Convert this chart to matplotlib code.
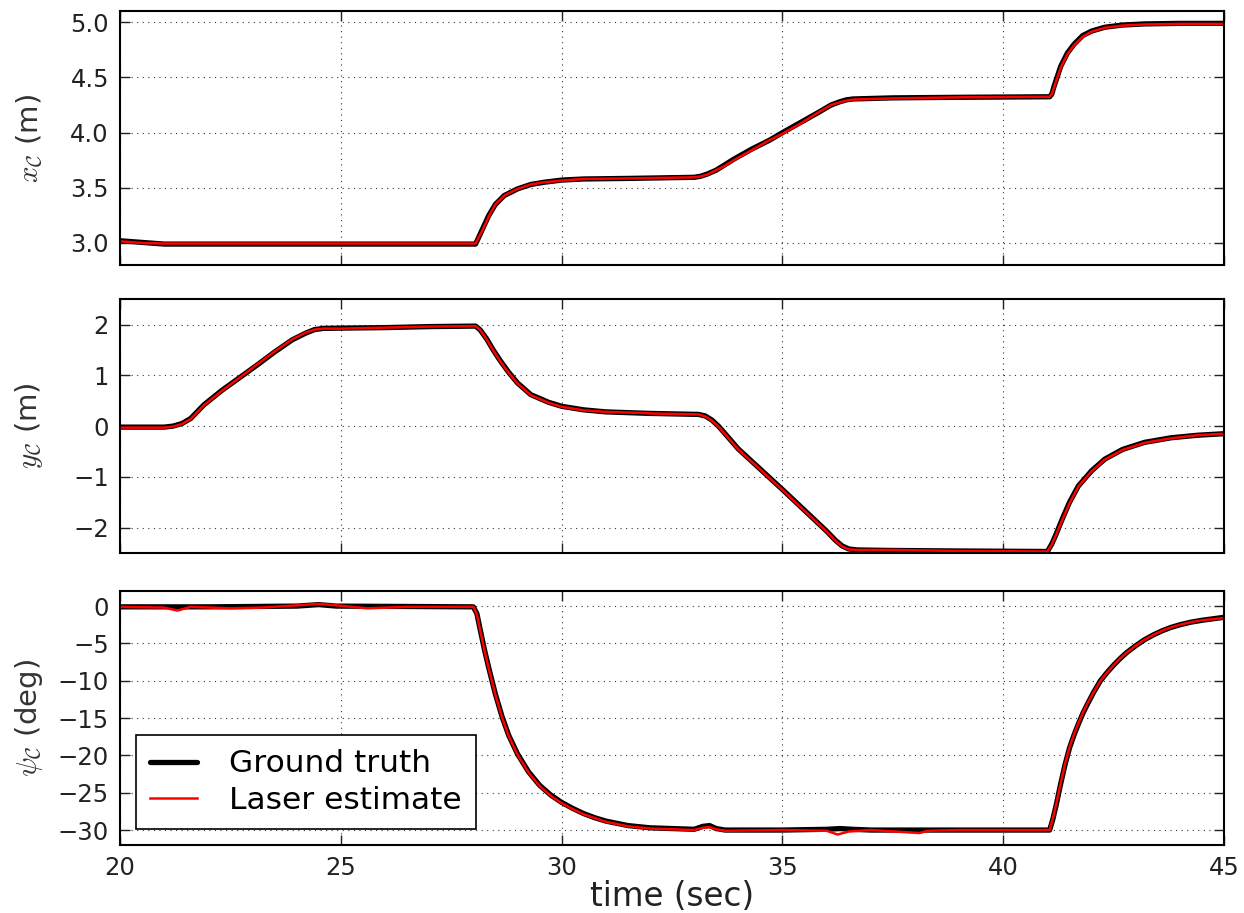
import matplotlib
matplotlib.use("Agg")
import matplotlib.pyplot as plt
import numpy as np

plt.rcParams["mathtext.fontset"] = "cm"
plt.rcParams["font.family"] = "DejaVu Sans"

# ---- x_C (m) ----
t_x_gt = [20.0, 20.5, 21.0, 24.0, 28.05, 28.12, 28.2, 28.35, 28.5, 28.7, 29.0, 29.3, 29.6,
          30.0, 30.5, 31.5, 33.0, 33.15, 33.3, 33.5, 33.7, 33.9, 34.3, 34.7, 35.0, 35.4,
          35.8, 36.1, 36.3, 36.45, 36.6, 37.5, 39.0, 41.05, 41.1, 41.15, 41.3, 41.45, 41.6,
          41.8, 42.0, 42.3, 42.7, 43.2, 44.0, 45.0]
x_gt = [3.02, 3.005, 2.99, 2.99, 2.99, 3.05, 3.12, 3.25, 3.35, 3.43, 3.49, 3.53, 3.55,
        3.57, 3.58, 3.585, 3.595, 3.605, 3.625, 3.66, 3.71, 3.76, 3.85, 3.93, 4.0, 4.09,
        4.18, 4.25, 4.28, 4.297, 4.305, 4.315, 4.32, 4.325, 4.35, 4.42, 4.6, 4.72, 4.8,
        4.88, 4.92, 4.955, 4.975, 4.985, 4.99, 4.99]
t_x_las = [20.0, 20.5, 21.0, 23.0, 25.0, 28.05, 28.12, 28.2, 28.35, 28.5, 28.7, 29.0, 29.3,
           29.6, 30.0, 30.5, 31.5, 32.3, 33.0, 33.15, 33.3, 33.5, 33.7, 33.9, 34.3, 34.7,
           35.0, 35.4, 35.8, 36.1, 36.3, 36.45, 36.6, 37.5, 39.0, 41.05, 41.1, 41.15, 41.3,
           41.45, 41.6, 41.8, 42.0, 42.3, 42.7, 43.2, 44.0, 45.0]
x_las = [3.015, 3.0, 2.995, 2.995, 2.995, 2.995, 3.05, 3.11, 3.24, 3.35, 3.43, 3.49, 3.53,
         3.55, 3.565, 3.58, 3.585, 3.59, 3.595, 3.603, 3.62, 3.66, 3.7, 3.75, 3.84, 3.93,
         3.99, 4.08, 4.18, 4.25, 4.275, 4.29, 4.3, 4.31, 4.32, 4.325, 4.35, 4.41, 4.59,
         4.71, 4.79, 4.87, 4.915, 4.95, 4.97, 4.98, 4.985, 4.985]

# ---- y_C (m) ----
t_y_gt = [20.0, 21.0, 21.2, 21.4, 21.6, 21.9, 22.3, 22.7, 23.1, 23.5, 23.9, 24.2,
          24.4, 24.6, 25.0, 26.0, 27.0, 28.05, 28.15, 28.3, 28.45, 28.6, 28.8, 29.0, 29.3,
          29.7, 30.0, 30.5, 31.0, 32.0, 33.1, 33.25, 33.4, 33.55, 33.7, 34.0, 34.5, 35.0,
          35.5, 36.0, 36.2, 36.35, 36.5, 36.7, 37.5, 39.0, 41.0, 41.1, 41.2, 41.35, 41.5,
          41.7, 42.0, 42.3, 42.7, 43.2, 43.8, 44.4, 45.0]
y_gt = [-0.02, -0.02, 0.0, 0.05, 0.15, 0.42, 0.7, 0.95, 1.2, 1.46, 1.7, 1.83,
        1.9, 1.925, 1.93, 1.94, 1.96, 1.97, 1.9, 1.72, 1.5, 1.3, 1.06, 0.85, 0.62,
        0.47, 0.39, 0.32, 0.28, 0.25, 0.23, 0.2, 0.12, 0.0, -0.15, -0.45, -0.85, -1.25,
        -1.66, -2.07, -2.25, -2.36, -2.42, -2.44, -2.45, -2.46, -2.47, -2.32, -2.12, -1.8, -1.5,
        -1.18, -0.88, -0.65, -0.46, -0.32, -0.23, -0.18, -0.15]
t_y_las = [20.0, 21.0, 21.2, 21.4, 21.6, 21.9, 22.3, 22.7, 23.1, 23.5, 23.9, 24.2,
           24.4, 24.6, 25.0, 26.0, 27.0, 28.05, 28.15, 28.3, 28.45, 28.6, 28.8, 29.0, 29.3,
           29.7, 30.0, 30.5, 31.0, 31.8, 32.0, 33.1, 33.25, 33.4, 33.55, 33.7, 34.0, 34.5,
           35.0, 35.5, 36.0, 36.2, 36.35, 36.5, 36.7, 37.5, 39.0, 41.0, 41.1, 41.2, 41.35,
           41.5, 41.7, 42.0, 42.3, 42.7, 43.2, 43.8, 44.4, 45.0]
y_las = [-0.03, -0.03, -0.01, 0.04, 0.14, 0.41, 0.69, 0.95, 1.21, 1.47, 1.71, 1.84,
         1.9, 1.92, 1.92, 1.94, 1.96, 1.97, 1.9, 1.71, 1.49, 1.29, 1.05, 0.84, 0.61,
         0.46, 0.38, 0.31, 0.28, 0.26, 0.25, 0.23, 0.19, 0.11, -0.01, -0.16, -0.46, -0.86,
         -1.26, -1.67, -2.08, -2.26, -2.37, -2.43, -2.44, -2.44, -2.46, -2.47, -2.33, -2.13,
         -1.82, -1.52, -1.19, -0.89, -0.66, -0.47, -0.33, -0.24, -0.18, -0.15]

# ---- psi_C (deg) ----
t_p_gt = [20.0, 21.0, 22.0, 24.0, 24.5, 24.9, 28.0, 28.08, 28.15, 28.25, 28.35, 28.5,
          28.65, 28.8, 29.0, 29.25, 29.5, 29.75, 30.0, 30.25, 30.5, 30.75, 31.0, 31.5,
          32.0, 33.0, 33.2, 33.35, 33.5, 33.7, 35.0, 36.0, 36.3, 36.6, 37.0, 41.05, 41.12,
          41.2, 41.3, 41.4, 41.5, 41.6, 41.7, 41.8, 41.9, 42.05, 42.2, 42.35, 42.5, 42.65,
          42.8, 43.0, 43.2, 43.4, 43.6, 43.8, 44.0, 44.25, 44.5, 44.75, 45.0]
p_gt = [-0.1, -0.1, -0.1, 0.0, 0.2, 0.0, -0.1, -1.0, -3.0, -5.8, -8.3, -11.8,
        -14.8, -17.3, -19.8, -22.2, -24.0, -25.3, -26.3, -27.1, -27.8, -28.35, -28.8, -29.4,
        -29.7, -29.9, -29.5, -29.4, -29.8, -30.0, -30.0, -29.9, -29.8, -29.9, -30.0, -30.0,
        -28.6, -26.6, -23.8, -21.2, -19.0, -17.3, -15.8, -14.4, -13.2, -11.5, -10.0, -8.9,
        -7.9, -7.0, -6.2, -5.3, -4.5, -3.85, -3.3, -2.85, -2.5, -2.15, -1.9, -1.7, -1.5]
t_p_las = [20.0, 21.0, 21.3, 21.6, 22.5, 23.2, 24.0, 24.5, 24.9, 25.6, 26.5, 28.0,
           28.08, 28.15, 28.25, 28.35, 28.5, 28.65, 28.8, 29.0, 29.25, 29.5, 29.75, 30.0,
           30.25, 30.5, 30.75, 31.0, 31.5, 32.0, 33.0, 33.2, 33.35, 33.5, 33.7, 35.0, 36.0,
           36.25, 36.5, 37.0, 38.1, 38.3, 39.0, 41.05, 41.12, 41.2, 41.3, 41.4, 41.5, 41.6,
           41.7, 41.8, 41.9, 42.05, 42.2, 42.35, 42.5, 42.65, 42.8, 43.0, 43.2, 43.4, 43.6,
           43.8, 44.0, 44.25, 44.5, 44.75, 45.0]
p_las = [-0.1, -0.2, -0.6, -0.1, -0.3, -0.2, 0.1, 0.3, 0.1, -0.3, -0.1, -0.1,
         -1.1, -3.1, -5.9, -8.4, -11.9, -14.9, -17.4, -19.9, -22.3, -24.1, -25.4, -26.4,
         -27.2, -27.9, -28.4, -28.9, -29.5, -29.8, -30.0, -29.7, -29.6, -29.9, -30.1, -30.0,
         -30.1, -30.6, -30.2, -30.0, -30.4, -30.1, -30.0, -30.0, -28.5, -26.5, -23.7, -21.1,
         -18.9, -17.2, -15.7, -14.3, -13.1, -11.5, -10.0, -8.9, -7.9, -7.0, -6.2, -5.3,
         -4.5, -3.85, -3.3, -2.85, -2.5, -2.15, -1.9, -1.75, -1.6]

panels = [
    (t_x_gt, x_gt, t_x_las, x_las, r"$x_\mathcal{C}$ (m)", (2.8, 5.1), [3.0, 3.5, 4.0, 4.5, 5.0], ["3.0", "3.5", "4.0", "4.5", "5.0"]),
    (t_y_gt, y_gt, t_y_las, y_las, r"$y_\mathcal{C}$ (m)", (-2.5, 2.5), [-2, -1, 0, 1, 2], ["\u22122", "\u22121", "0", "1", "2"]),
    (t_p_gt, p_gt, t_p_las, p_las, r"$\psi_\mathcal{C}$ (deg)", (-32, 2), [-30, -25, -20, -15, -10, -5, 0],
     ["\u221230", "\u221225", "\u221220", "\u221215", "\u221210", "\u22125", "0"]),
]

fig = plt.figure(figsize=(12.44, 9.13), dpi=100)
fig.patch.set_facecolor("white")
left, width, height = 0.0965, 0.8875, 0.278
bottoms = [0.7097, 0.3943, 0.0745]

for i, (tg, vg, tl, vl, lab, ylim, yt, ytl) in enumerate(panels):
    ax = fig.add_axes([left, bottoms[i], width, height])
    ax.plot(tg, vg, color="black", lw=3.8, label="Ground truth",
            solid_capstyle="round", solid_joinstyle="round")
    ax.plot(tl, vl, color="red", lw=1.8, label="Laser estimate", solid_joinstyle="round")
    ax.set_xlim(20, 45)
    ax.set_ylim(*ylim)
    ax.set_yticks(yt)
    ax.set_yticklabels(ytl)
    ax.set_xticks([20, 25, 30, 35, 40, 45])
    ax.grid(True, color="black", linestyle=(0, (1, 4)), linewidth=0.8, alpha=0.8)
    ax.tick_params(direction="in", length=7, width=1, top=True, right=True,
                   labelsize=17.5, colors="#222222", pad=8)
    for s in ax.spines.values():
        s.set_linewidth(1.5)
    ax.set_ylabel(lab, fontsize=21, color="#333333")
    ax.yaxis.set_label_coords(-0.068, 0.5)
    if i < 2:
        ax.set_xticklabels([])
    else:
        ax.set_xlabel("time (sec)", fontsize=23.5, color="#222222", labelpad=0)
        leg = ax.legend(loc="lower left", fontsize=22.5, fancybox=False, frameon=True,
                        borderaxespad=0.5, handlelength=1.5, handletextpad=1.05,
                        labelspacing=0.25, borderpad=0.45)
        leg.get_frame().set_edgecolor("black")
        leg.get_frame().set_linewidth(1.2)
        leg.get_frame().set_alpha(1.0)

fig.savefig("out.png", dpi=100, facecolor="white")
